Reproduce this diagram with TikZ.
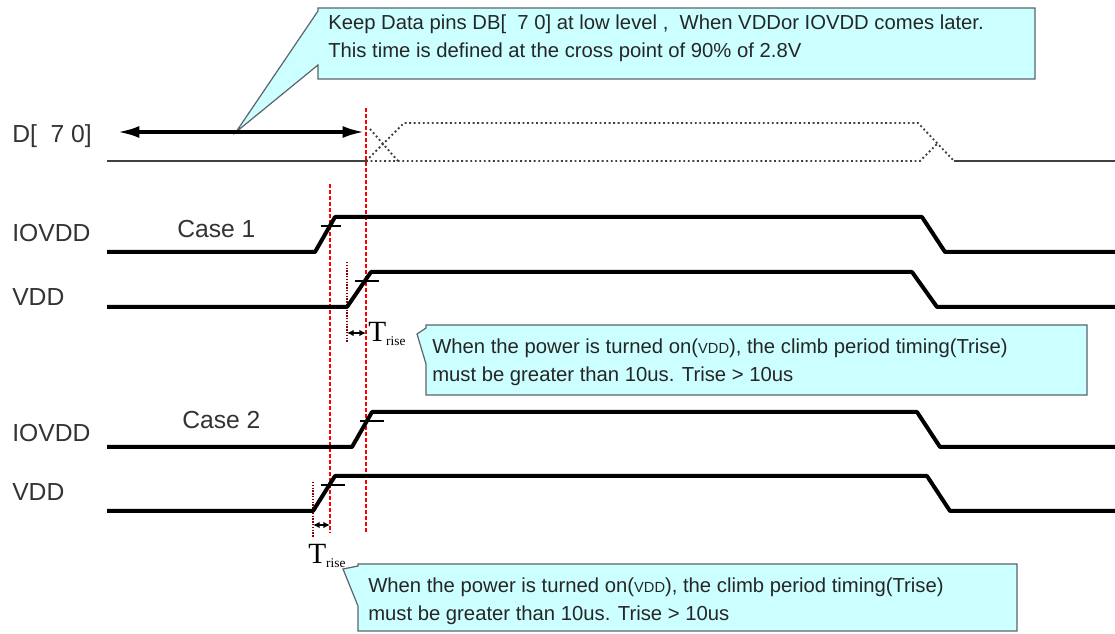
\documentclass[tikz,border=0pt]{standalone}
\usepackage{fontspec}
\setmainfont{Liberation Sans}
\newfontfamily\timesfont{Liberation Serif}
\usetikzlibrary{arrows.meta}
\definecolor{notefill}{RGB}{204,255,255}
\definecolor{noteedge}{RGB}{90,100,105}

\begin{document}
\begin{tikzpicture}[x=0.75pt, y=-0.75pt,
    sig/.style={line width=3pt, black, line join=round},
    busline/.style={line width=1.4pt, black!75, dotted},
    tickmk/.style={line width=1.4pt, black},
    redline/.style={red, line width=0.9pt, dash pattern=on 3pt off 1.5pt},
    shortline/.style={red!55!black, line width=1.1pt, densely dotted},
    callout/.style={draw=noteedge, fill=notefill, line width=0.9pt},
    lbl/.style={anchor=west, inner sep=0pt, text=black!80, font=\fontsize{18.5}{20}\selectfont},
    note/.style={anchor=west, inner sep=0pt, align=left, text=black!85, font=\fontsize{15.2}{21}\selectfont},
    trise/.style={anchor=west, inner sep=0pt, font=\timesfont\fontsize{22}{22}\selectfont},
    tarrow/.style={line width=1.3pt, {Latex[length=5pt,width=5pt]}-{Latex[length=5pt,width=5pt]}}]
    \useasboundingbox (0,0) rectangle (1115,634);

    % Callouts
    \draw[callout] (318,8) -- (1035,8) -- (1035,79) -- (318,79) -- (318,65) -- (236,132) -- (318,11) -- cycle;
    \draw[callout] (426,325) -- (1087,325) -- (1087,395) -- (426,395) -- (426,364) -- (417,334) -- (426,328) -- cycle;
    \draw[callout] (358,564) -- (1017,564) -- (1017,631) -- (358,631) -- (358,606) -- (343,569) -- (358,566) -- cycle;
    \node[note] (note1) at (328,38) {Keep Data pins DB[\ \ 7 0] at low level ,\ \ When VDDor IOVDD comes later.\\This time is defined at the cross point of 90\% of 2.8V};
    \node[note] (note2) at (432,362) {When the power is turned on({\fontsize{11}{11}\selectfont VDD}), the climb period timing(Trise)\\must be greater than 10us. Trise > 10us};
    \node[note] (note3) at (368,601) {When the power is turned on({\fontsize{11}{11}\selectfont VDD}), the climb period timing(Trise)\\must be greater than 10us. Trise > 10us};

    % Labels
    \node[lbl] (lblD) at (12,136) {D[\ \ 7 0]};
    \node[lbl] (lblIO1) at (12,233) {IOVDD};
    \node[lbl] (lblV1) at (12,297) {VDD};
    \node[lbl] (lblIO2) at (12,433) {IOVDD};
    \node[lbl] (lblV2) at (12,492) {VDD};
    \node[lbl] (case1) at (177,229) {Case 1};
    \node[lbl] (case2) at (182,420) {Case 2};

    % Red marker lines
    \draw[redline] (366,108) -- (366,533);
    \draw[redline] (330,184) -- (330,533);
    \draw[shortline] (347,262) -- (347,343);
    \draw[shortline] (313,482) -- (313,537);

    % D[7 0]
    \coordinate (dL) at (118,132);
    \coordinate (dR) at (364,132);
    \draw[line width=2.4pt, {Latex[length=16pt,width=9pt]}-{Latex[length=16pt,width=9pt]}] (dL) -- (dR);
    \draw[line width=1.6pt, black!75] (107,161) -- (366,161);
    \draw[line width=1.6pt, black!75] (954,161) -- (1115,161);
    \draw[busline] (366,161) -- (404,123) -- (918,123) -- (954,161);
    \draw[busline] (370,129) -- (398,161);
    \draw[busline] (366,161) -- (920,161) -- (937,144);

    % Case 1
    \draw[sig] (107,252) -- (315,252) -- (335,217) -- (922,217) -- (945,252) -- (1115,252);
    \draw[tickmk] (321,226) -- (341,226);
    \draw[sig] (107,307) -- (347,307) -- (371,272) -- (912,272) -- (937,307) -- (1115,307);
    \draw[tickmk] (355,281) -- (379,281);
    \draw[tarrow] (347,333) -- (366,333);
    \node[trise] (tr1) at (368,334) {T\raisebox{-0.3ex}{\fontsize{10}{10}\selectfont rise}};

    % Case 2
    \draw[sig] (107,447) -- (352,447) -- (372,412) -- (917,412) -- (940,447) -- (1115,447);
    \draw[tickmk] (360,421) -- (384,421);
    \draw[sig] (107,511) -- (313,511) -- (335,476) -- (927,476) -- (950,511) -- (1115,511);
    \draw[tickmk] (321,485) -- (345,485);
    \draw[tarrow] (313,525) -- (330,525);
    \node[trise] (tr2) at (308,556) {T\raisebox{-0.3ex}{\fontsize{10}{10}\selectfont rise}};
\end{tikzpicture}
\end{document}
